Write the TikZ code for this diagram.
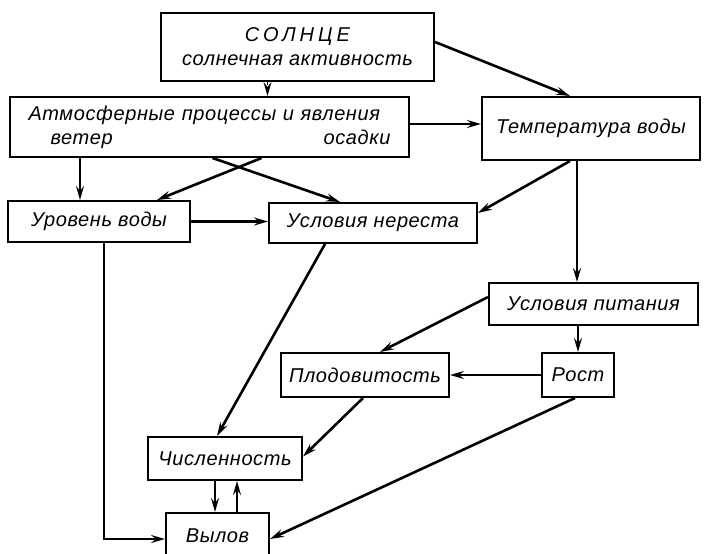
\documentclass[tikz,border=0pt]{standalone}
\usepackage{fontspec}
\setmainfont{Liberation Sans}
\usetikzlibrary{arrows.meta}

\begin{document}
\begin{tikzpicture}[x=1pt,y=-1pt,
    blok/.style={draw=black,line width=2pt,inner sep=0pt,
                 font=\fontsize{20}{24}\selectfont\itshape\addfontfeature{LetterSpace=3},align=center},
    strel/.style={line width=2.6pt,-{Stealth[length=14pt,width=8pt,inset=5pt]}}]
    \useasboundingbox (0,0) rectangle (705,554);
    \node [blok,minimum width=273pt,minimum height=68pt] (solnce) at (297.5,47)
            {{\addfontfeature{LetterSpace=20}СОЛНЦЕ}\\солнечная активность};
    \node [blok,minimum width=399pt,minimum height=60pt,text width=362pt,align=left] (atmosf) at (209.5,127)
            {Атмосферные процессы и явления\\ \hspace*{22pt}ветер\hfill осадки\hspace*{23pt}};
    \node [blok,minimum width=218pt,minimum height=63pt] (temper) at (591,128.5) {Температура воды};
    \node [blok,minimum width=182pt,minimum height=41pt] (uroven) at (99,221.5) {Уровень воды};
    \node [blok,minimum width=208pt,minimum height=40pt] (nerest) at (373,223) {Условия нереста};
    \node [blok,minimum width=209pt,minimum height=42pt] (pitanie) at (593.5,304) {Условия питания};
    \node [blok,minimum width=168pt,minimum height=44pt] (plodov) at (365,375) {Плодовитость};
    \node [blok,minimum width=72pt,minimum height=44pt] (rost) at (578,375) {Рост};
    \node [blok,minimum width=154pt,minimum height=43pt] (chislen) at (225,458.5) {Численность};
    \node [blok,minimum width=103pt,minimum height=46pt] (vylov) at (217.5,536) {Вылов};

    \draw [strel,line width=1.4pt,dashed] ([xshift=-30pt]solnce.south) -- ([xshift=-30pt]solnce.south |- atmosf.north);
    \draw [strel] ([yshift=5pt]solnce.east) -- ([xshift=-21pt]temper.north);
    \draw [strel] ([yshift=3pt]atmosf.east) -- ([yshift=3pt]atmosf.east -| temper.west);
    \draw [strel] ([xshift=-19pt]uroven.north |- atmosf.south) -- ([xshift=-19pt]uroven.north);
    \draw [strel] ([xshift=52pt]atmosf.south) -- ([xshift=58pt]uroven.north);
    \draw [strel] ([xshift=3pt]atmosf.south) -- ([xshift=-33pt]nerest.north);
    \draw [strel] (uroven.east) -- (uroven.east -| nerest.west);
    \draw [strel] ([xshift=-21pt]temper.south) -- ([yshift=10pt]nerest.east);
    \draw [strel] ([xshift=-14pt]temper.south) -- ([xshift=-14pt]temper.south |- pitanie.north);
    \draw [strel] ([yshift=7pt]pitanie.west) -- ([xshift=15pt]plodov.north);
    \draw [strel] (rost.north |- pitanie.south) -- (rost.north);
    \draw [strel] (rost.west) -- (plodov.east);
    \draw [strel] ([xshift=-48pt]nerest.south) -- ([xshift=-8pt]chislen.north);
    \draw [strel] ([xshift=-2pt]plodov.south) -- ([yshift=2pt]chislen.east);
    \draw [strel] ([xshift=-3pt]rost.south) -- ([yshift=-3pt]vylov.west -| vylov.east);
    \draw [strel] ([xshift=5pt]uroven.south) |- ([yshift=-3pt]vylov.west);
    \draw [strel] ([xshift=-10pt]chislen.south) -- ([xshift=-10pt]chislen.south |- vylov.north);
    \draw [strel] ([xshift=12pt]chislen.south |- vylov.north) -- ([xshift=12pt]chislen.south);
\end{tikzpicture}
\end{document}
